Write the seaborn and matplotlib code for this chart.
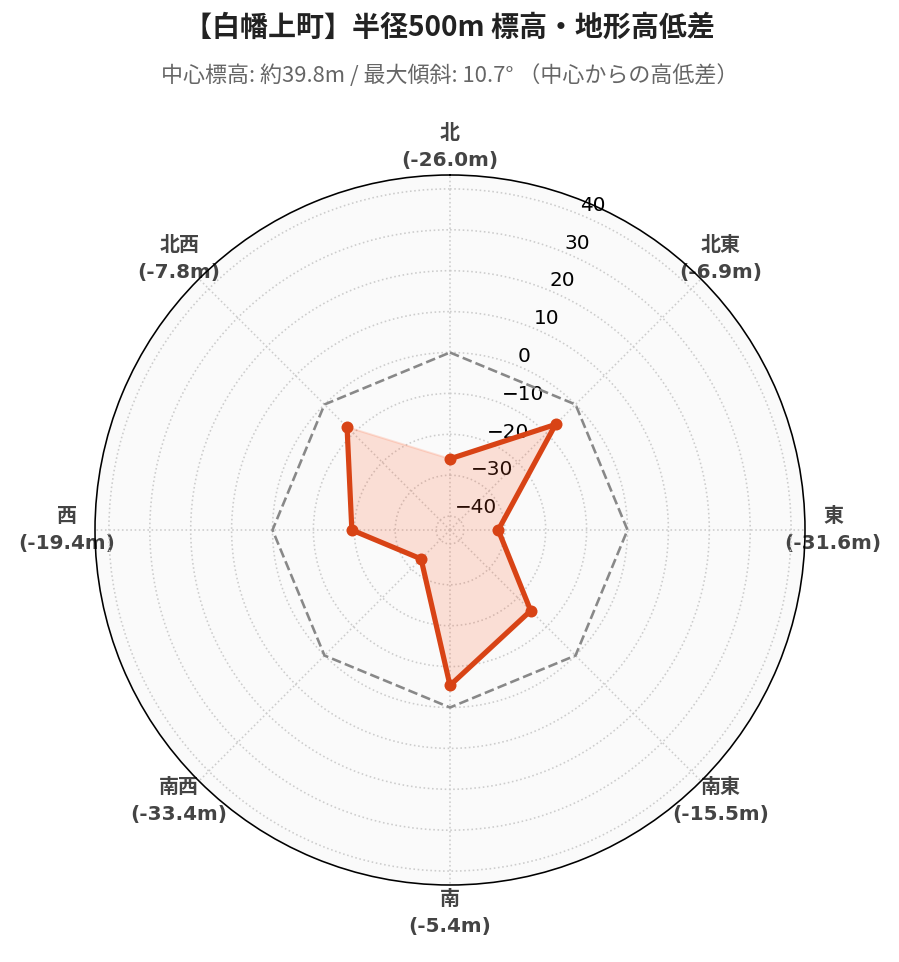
import numpy as np
import pandas as pd
import matplotlib
matplotlib.use("Agg")
import matplotlib.pyplot as plt
import seaborn as sns

directions = ["北", "北東", "東", "南東", "南", "南西", "西", "北西"]
angles_deg = [0, 45, 90, 135, 180, 225, 270, 315]
diffs = [-26.0, -6.9, -31.6, -15.5, -5.4, -33.4, -19.4, -7.8]
rticks = [-40, -30, -20, -10, 0, 10, 20, 30, 40]
title = "【白幡上町】半径500m 標高・地形高低差"
subtitle = "中心標高: 約39.8m / 最大傾斜: 10.7° （中心からの高低差）"

plt.rcParams['font.family'] = ['DejaVu Sans', 'Noto Sans CJK JP']

theta = np.deg2rad(angles_deg)
df = pd.DataFrame({"theta": np.append(theta, theta[0]), "diff": diffs + diffs[:1]})

fig = plt.figure(figsize=(899 / 144, 962 / 144), dpi=144)
ax = fig.add_axes([95 / 899, 77 / 962, 710 / 899, 710 / 962], projection='polar')
ax.set_theta_zero_location('N')
ax.set_theta_direction(-1)
ax.set_facecolor('#fafafa')

lim = max(abs(v) for v in diffs) + 10
ax.set_ylim(-lim, lim)
ax.set_yticks(rticks)
ax.set_rlabel_position(22.5)

ax.set_xticks(theta)
ax.set_xticklabels([f"{d}\n({v:.1f}m)" for d, v in zip(directions, diffs)],
                   fontweight='bold', color='#444444', linespacing=1.55)
ax.tick_params(axis='x', pad=3.5)
ax.grid(True, linestyle=':', color='#cccccc', linewidth=0.8)
ax.spines['polar'].set_color('black')
ax.spines['polar'].set_linewidth(0.8)

# zero reference (center elevation)
ax.plot(df["theta"], np.zeros(len(df)), ls='--', color='#888888', lw=1.3, zorder=3)

ax.fill(df["theta"], df["diff"], color='#FF5722', alpha=0.17, zorder=3)
sns.lineplot(data=df, x="theta", y="diff", sort=False, ax=ax, color='#D84315',
             lw=2.6, marker='o', markersize=6, markeredgewidth=0, zorder=4)
ax.set_xlabel('')
ax.set_ylabel('')

fig.text(0.5, 1 - 28 / 962, title, ha='center', va='center', fontsize=14,
         fontweight='bold', family=['Noto Sans CJK JP'], color='#222222')
fig.text(0.5, 1 - 76 / 962, subtitle, ha='center', va='center', fontsize=11,
         family=['Noto Sans CJK JP'], color='#666666')

fig.savefig("out.png", dpi=144)
